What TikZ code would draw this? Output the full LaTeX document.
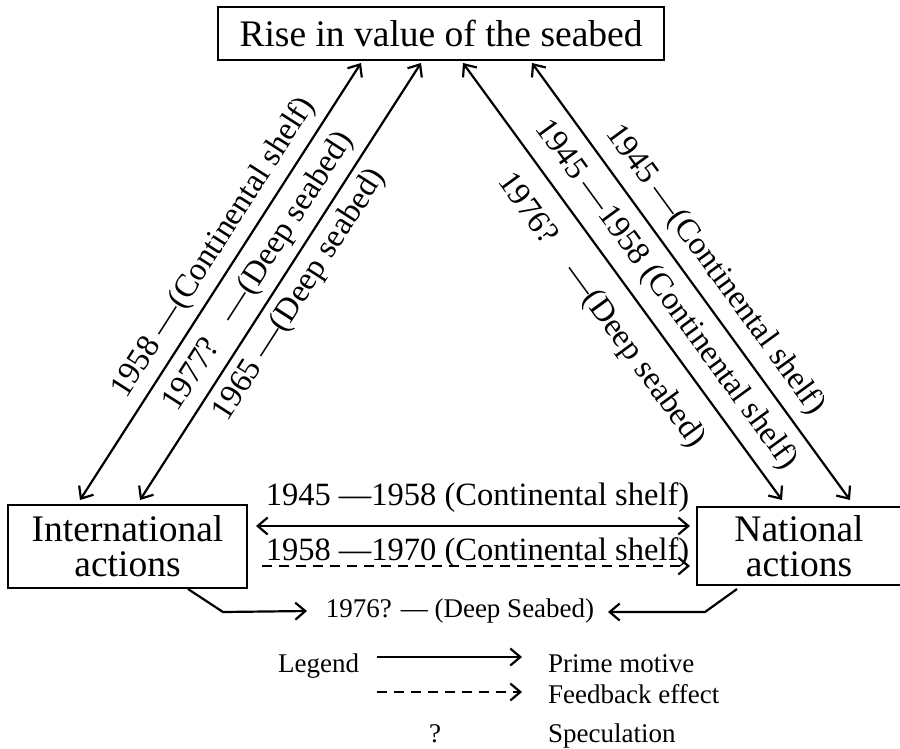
\documentclass[tikz,border=0pt]{standalone}
\usepackage{fontspec}
\setmainfont{Liberation Serif}
\usetikzlibrary{arrows.meta}
\begin{document}
\begin{tikzpicture}[x=1pt,y=-1pt,
  box/.style={draw,line width=2.6pt,inner sep=0pt,align=center,font=\fontsize{37.5}{35}\selectfont},
  lab/.style={inner sep=0pt,font=\fontsize{32.5}{34}\selectfont},
  small/.style={inner sep=0pt,font=\fontsize{27}{29}\selectfont},
  tip/.tip={Straight Barb[length=10pt,width=17pt,line width=2.2pt]},
  conn/.style={line width=2.2pt,-tip},
  dconn/.style={line width=2.2pt,tip-tip},
  fb/.style={conn,dash pattern=on 10pt off 7pt}
]
\useasboundingbox (0,0) rectangle (900,748);
\clip (0,0) rectangle (900,748);

% boxes
\node[box,minimum width=446pt,minimum height=53pt] (top) at (441,33.5) {Rise in value of the seabed};
\node[box,minimum width=239pt,minimum height=83pt] (intl) at (127.5,546.5) {International\\actions};
\node[box,minimum width=204pt,minimum height=78pt] (natl) at (799,546) {National\\actions};

% connector end points
\coordinate (t1) at (361,63);
\coordinate (t2) at (421,63);
\coordinate (t3) at (463,63);
\coordinate (t4) at (532,63);
\coordinate (i1) at (80,500);
\coordinate (i2) at (140,500);
\coordinate (n3) at (782,500);
\coordinate (n4) at (850,500);
\coordinate (h1l) at (256,526);
\coordinate (h1r) at (690,526);
\coordinate (h2l) at (262,566);
\coordinate (h2r) at (690,566);
\coordinate (bl0) at (188,589);
\coordinate (bl1) at (223,612);
\coordinate (bl2) at (307,611);
\coordinate (br0) at (737,589);
\coordinate (br1) at (705,612);
\coordinate (br2) at (608,612);

% diagonal connectors
\draw[dconn] (t1) -- (i1);
\draw[dconn] (t2) -- (i2);
\draw[dconn] (t3) -- (n3);
\draw[dconn] (t4) -- (n4);

% horizontal connectors
\draw[dconn] (h1l) -- (h1r);
\draw[fb] (h2l) -- (h2r);

% bent connectors
\draw[conn] (bl0) -- (bl1) -- (bl2);
\draw[conn] (br0) -- (br1) -- (br2);

% diagonal labels
\node[lab,rotate=57.3] (la) at (214,248) {1958 —(Continental shelf)};
\node[lab,rotate=57.3] (lb) at (259,272) {1977?\hspace{0.8em}—(Deep seabed)};
\node[lab,rotate=57.3] (lc) at (300,295) {1965 —(Deep seabed)};
\node[lab,rotate=-53.9] (ld) at (601,311) {1976?\hspace{1em}—(Deep seabed)};
\node[lab,rotate=-53.9] (le) at (666,295) {1945 —1958 (Continental shelf)};
\node[lab,rotate=-53.9] (lf) at (715,270) {1945 —(Continental shelf)};

% horizontal labels
\node[lab,anchor=base] (lg) at (477.5,505) {1945 —1958 (Continental shelf)};
\node[lab,anchor=base] (lh) at (477.5,560) {1958 —1970 (Continental shelf)};
\node[small,anchor=base] (li) at (460,617) {1976? — (Deep Seabed)};

% legend
\node[small,anchor=base west] (leg) at (278,672) {Legend};
\coordinate (la0) at (377,657);
\coordinate (la1) at (522,657);
\coordinate (lb0) at (377,692);
\coordinate (lb1) at (522,692);
\draw[conn] (la0) -- (la1);
\draw[fb] (lb0) -- (lb1);
\node[small,anchor=base west] (pm) at (548,672) {Prime motive};
\node[small,anchor=base west] (fe) at (548,703) {Feedback effect};
\node[small,anchor=base] (q) at (435,742) {?};
\node[small,anchor=base west] (sp) at (548,742) {Speculation};
\end{tikzpicture}
\end{document}
